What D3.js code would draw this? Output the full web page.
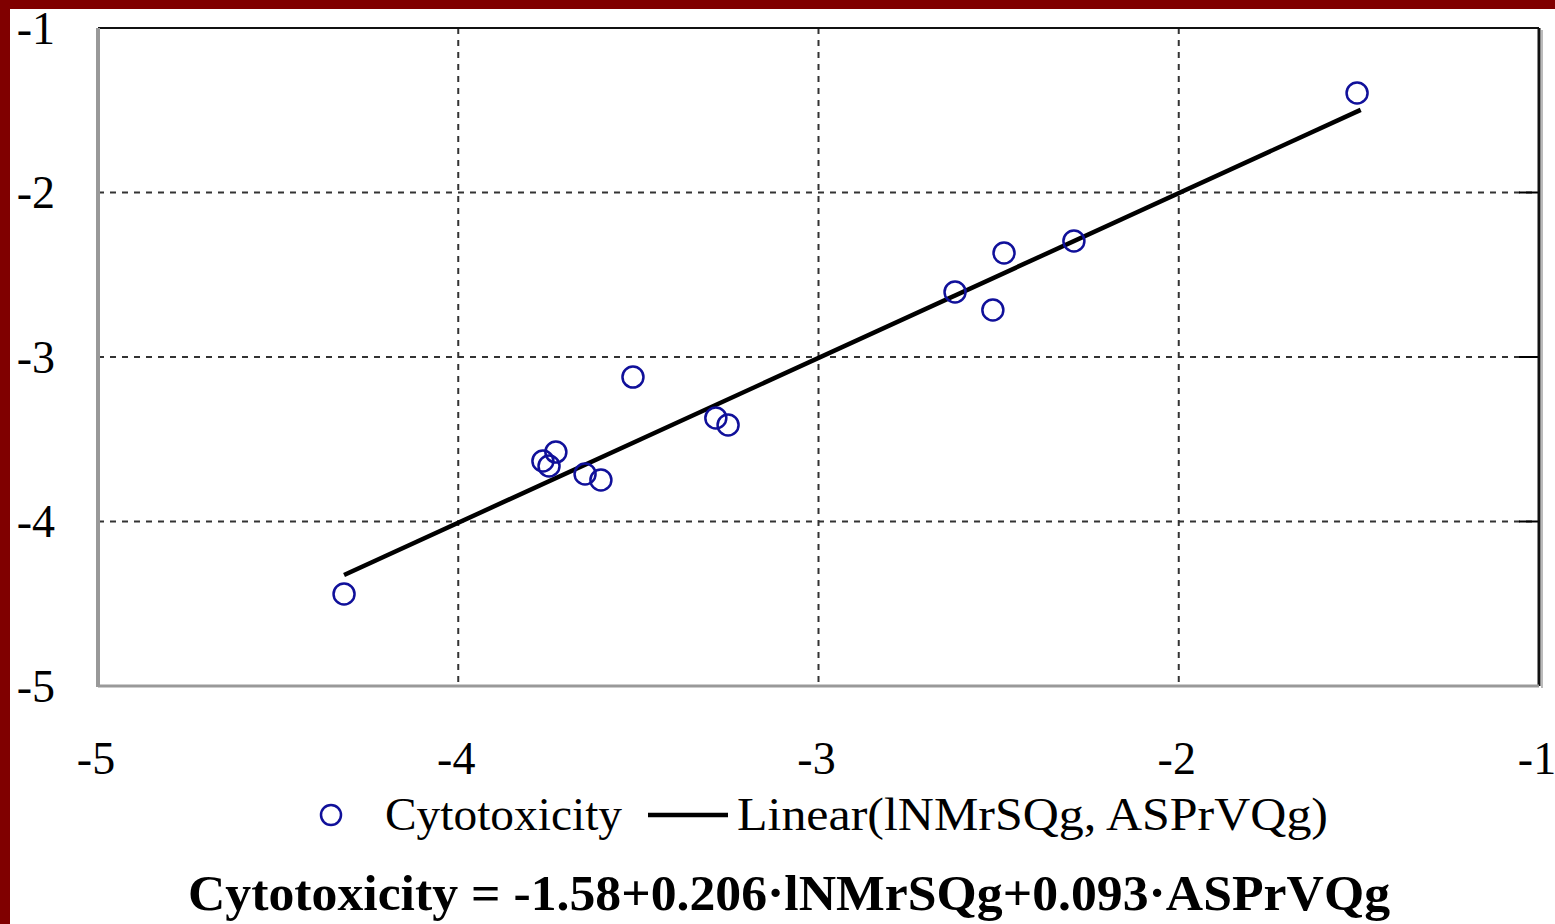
<!DOCTYPE html>
<html>
<head>
<meta charset="utf-8">
<script src="https://cdn.jsdelivr.net/npm/d3@7"></script>
<style>
  html, body { margin: 0; padding: 0; background: #fff; }
  svg { display: block; }
  text { font-family: "Liberation Serif", "Times New Roman", serif; fill: #000; }
</style>
</head>
<body>
<svg id="chart" width="1555" height="924"></svg>
<script>
const xValues = [-1.505, -2.291, -2.485, -2.621, -2.516, -3.515, -3.285, -3.251, -3.729, -3.765, -3.748, -3.648, -3.604, -4.317];
const yValues = [-1.395, -2.295, -2.368, -2.605, -2.714, -3.122, -3.371, -3.413, -3.578, -3.632, -3.663, -3.711, -3.748, -4.441];
const fitX = [-4.317, -1.495];
const fitY = [-4.325, -1.498];
const xTicks = [-5, -4, -3, -2, -1];
const yTicks = [-5, -4, -3, -2, -1];
const legendLabels = ['Cytotoxicity', 'Linear(lNMrSQg, ASPrVQg)'];
const equation = 'Cytotoxicity = -1.58+0.206\u00b7lNMrSQg+0.093\u00b7ASPrVQg';

const svg = d3.select('#chart');
const plot = { left: 98, top: 28, right: 1539, bottom: 686 };

const x = d3.scaleLinear().domain([-5, -1]).range([plot.left, plot.right]);
const y = d3.scaleLinear().domain([-5, -1]).range([plot.bottom, plot.top]);

// dark red page border (left and top)
svg.append('rect').attr('x', 0).attr('y', 0).attr('width', 1555).attr('height', 9).attr('fill', '#800000');
svg.append('rect').attr('x', 0).attr('y', 0).attr('width', 10).attr('height', 924).attr('fill', '#800000');

// grid
const grid = svg.append('g').attr('stroke', '#333').attr('stroke-width', 2).attr('stroke-dasharray', '6,6');
grid.selectAll('.vgrid').data(xTicks.slice(1, -1)).enter().append('line')
    .attr('x1', d => x(d)).attr('x2', d => x(d))
    .attr('y1', plot.top).attr('y2', plot.bottom);
grid.selectAll('.hgrid').data(yTicks.slice(1, -1)).enter().append('line')
    .attr('x1', plot.left).attr('x2', plot.right)
    .attr('y1', d => y(d)).attr('y2', d => y(d));

// short solid inner ticks on the right and top edges
svg.append('g').attr('stroke', '#000').attr('stroke-width', 2)
    .selectAll('line').data(yTicks.slice(1, -1)).enter().append('line')
    .attr('x1', plot.right - 20).attr('x2', plot.right)
    .attr('y1', d => y(d)).attr('y2', d => y(d));

// frame: gray left/bottom, black top/right with a soft shadow
svg.append('line').attr('x1', plot.right + 3).attr('x2', plot.right + 3).attr('y1', plot.top + 2).attr('y2', plot.bottom + 2)
    .attr('stroke', '#bbb').attr('stroke-width', 2);
svg.append('line').attr('x1', plot.left).attr('x2', plot.right).attr('y1', plot.top).attr('y2', plot.top)
    .attr('stroke', '#111').attr('stroke-width', 2);
svg.append('line').attr('x1', plot.right).attr('x2', plot.right).attr('y1', plot.top).attr('y2', plot.bottom)
    .attr('stroke', '#111').attr('stroke-width', 3);
svg.append('line').attr('x1', plot.left).attr('x2', plot.left).attr('y1', plot.top).attr('y2', plot.bottom + 1)
    .attr('stroke', '#999').attr('stroke-width', 4);
svg.append('line').attr('x1', plot.left).attr('x2', plot.right).attr('y1', plot.bottom).attr('y2', plot.bottom)
    .attr('stroke', '#999').attr('stroke-width', 3);

// tick labels
svg.append('g').selectAll('text').data(yTicks).enter().append('text')
    .attr('x', 55).attr('y', d => y(d)).attr('dy', '0.34em')
    .attr('text-anchor', 'end').attr('font-size', 46)
    .text(d => d3.format('d')(d).replace('\u2212', '-'));
svg.append('g').selectAll('text').data(xTicks).enter().append('text')
    .attr('x', d => x(d) - 2).attr('y', 774)
    .attr('text-anchor', 'middle').attr('font-size', 46)
    .text(d => d3.format('d')(d).replace('\u2212', '-'));

// fitted line
svg.append('path')
    .datum(fitX.map((d, i) => [d, fitY[i]]))
    .attr('fill', 'none').attr('stroke', '#000').attr('stroke-width', 4.5)
    .attr('d', d3.line().x(d => x(d[0])).y(d => y(d[1])));

// points
svg.append('g').selectAll('circle')
    .data(xValues.map((d, i) => [d, yValues[i]]))
    .enter().append('circle')
    .attr('cx', d => x(d[0])).attr('cy', d => y(d[1])).attr('r', 10.5)
    .attr('fill', 'none').attr('stroke', '#10109a').attr('stroke-width', 2.5);

// legend
const legend = svg.append('g');
legend.append('circle').attr('cx', 331).attr('cy', 815).attr('r', 10)
    .attr('fill', 'none').attr('stroke', '#10109a').attr('stroke-width', 2.5);
legend.append('text').attr('x', 385).attr('y', 830).attr('font-size', 46)
    .attr('textLength', 237).attr('lengthAdjust', 'spacingAndGlyphs').text(legendLabels[0]);
legend.append('line').attr('x1', 648).attr('x2', 728).attr('y1', 815).attr('y2', 815)
    .attr('stroke', '#000').attr('stroke-width', 4.5);
legend.append('text').attr('x', 737).attr('y', 830).attr('font-size', 46)
    .attr('textLength', 591).attr('lengthAdjust', 'spacingAndGlyphs').text(legendLabels[1]);

// regression equation
svg.append('text').attr('x', 188).attr('y', 910).attr('font-size', 50).attr('font-weight', 'bold')
    .attr('textLength', 1202).attr('lengthAdjust', 'spacingAndGlyphs').text(equation);
</script>
</body>
</html>
